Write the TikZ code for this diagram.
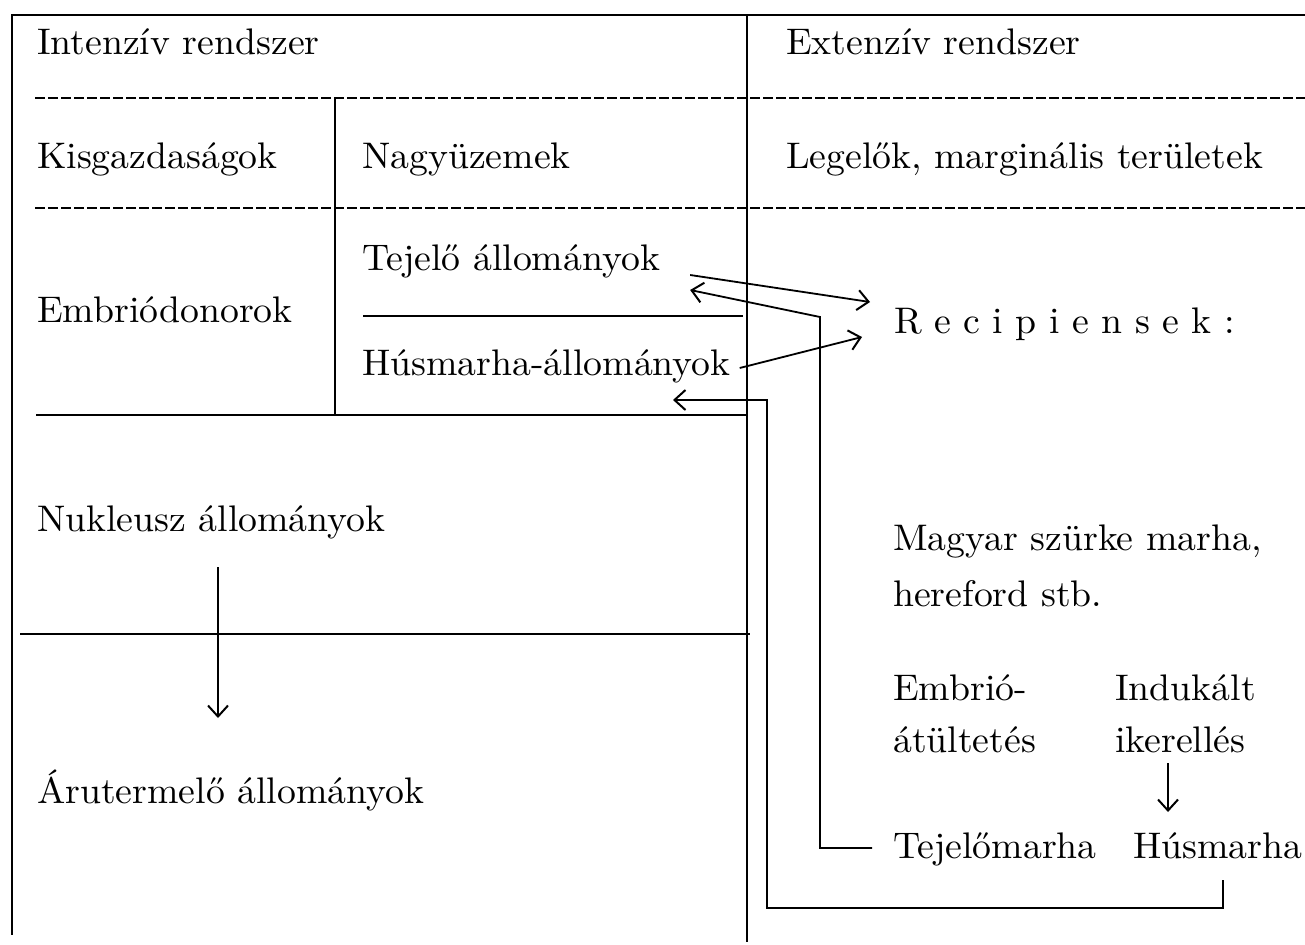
\documentclass[tikz,border=0pt]{standalone}
\usepackage{fontspec}
\setmainfont{lmroman10-regular.otf}[FakeStretch=1.02]
\usepackage{tikz}
\usetikzlibrary{arrows.meta}
\newcommand{\bigtxt}{\fontsize{37}{44}\selectfont}
\newcommand{\lsgap}{\hspace{12.5pt}}

\begin{document}
\begin{tikzpicture}
[every node/.style={inner sep=0pt, anchor=base west, font=\bigtxt},
 rule/.style={line width=1.8pt, color=black},
 dashrule/.style={line width=1.6pt, color=black, dash pattern=on 10pt off 3pt},
 arr/.style={line width=1.8pt, color=black, -{Straight Barb[length=11pt, width=20pt, line width=2pt]}}]
\useasboundingbox (0pt, 0pt) rectangle (1305pt, -944pt);
% frame
\draw [rule] (1305pt, -15pt) -- (12pt, -15pt) -- (12pt, -935pt);
\draw [rule] (747pt, -15pt) -- (747pt, -942pt);
\draw [dashrule] (35pt, -98pt) -- (1305pt, -98pt);
\draw [dashrule] (35pt, -208pt) -- (1305pt, -208pt);
\draw [rule] (335pt, -98pt) -- (335pt, -415pt);
\draw [rule] (36pt, -415pt) -- (747pt, -415pt);
\draw [rule] (363pt, -316pt) -- (743pt, -316pt);
\draw [rule] (20pt, -634pt) -- (750pt, -634pt);
% texts
\node (1) at (37pt, -55pt) {Intenzív rendszer};
\node (2) at (786pt, -55pt) {Extenzív rendszer};
\node (3) at (37pt, -168pt) {Kisgazdaságok};
\node (4) at (362pt, -168pt) {Nagyüzemek};
\node (5) at (786pt, -168pt) {Legelők, marginális területek};
\node (6) at (362pt, -270pt) {Tejelő állományok};
\node (7) at (37pt, -322pt) {Embriódonorok};
\node (8) at (362pt, -375pt) {Húsmarha-állományok};
\node (9) at (894pt, -333pt) {R\lsgap e\lsgap c\lsgap i\lsgap p\lsgap i\lsgap e\lsgap n\lsgap s\lsgap e\lsgap k\lsgap :};
\node (10) at (37pt, -531pt) {Nukleusz állományok};
\node (11) at (37pt, -803pt) {Árutermelő állományok};
\node (12) at (893pt, -550pt) {Magyar szürke marha,};
\node (13) at (893pt, -606pt) {hereford stb.};
\node (14) at (893pt, -700pt) {Embrió-};
\node (15) at (893pt, -752pt) {átültetés};
\node (16) at (1115pt, -700pt) {Indukált};
\node (17) at (1115pt, -752pt) {ikerellés};
\node (18) at (893pt, -858pt) {Tejelőmarha};
\node (19) at (1133pt, -858pt) {Húsmarha};
% bends
\coordinate (a) at (820pt, -317pt);
\coordinate (b) at (767pt, -908pt);
\coordinate (c) at (673pt, -400pt);
% arrows
\draw [arr] ([xshift=30pt, yshift=-5pt]6.base east) -- ([xshift=-24pt, yshift=31pt]9.base west);
\draw [arr] ([xshift=9pt, yshift=7pt]8.base east) -- ([xshift=-32pt, yshift=-4pt]9.base west);
\draw [arr] ([xshift=-21pt, yshift=10pt]18.base west) -| (a) -- ([xshift=30pt, yshift=-20pt]6.base east);
\draw [arr] ([xshift=90pt, yshift=-22pt]19.base west) |- (b) |- (c);
\draw [arr] ([xshift=181pt, yshift=-36pt]10.base west) -- ([xshift=181pt, yshift=85pt]11.base west);
\draw [arr] ([xshift=53pt, yshift=-11pt]17.base west) -- ([xshift=35pt, yshift=46pt]19.base west);
\end{tikzpicture}
\end{document}
